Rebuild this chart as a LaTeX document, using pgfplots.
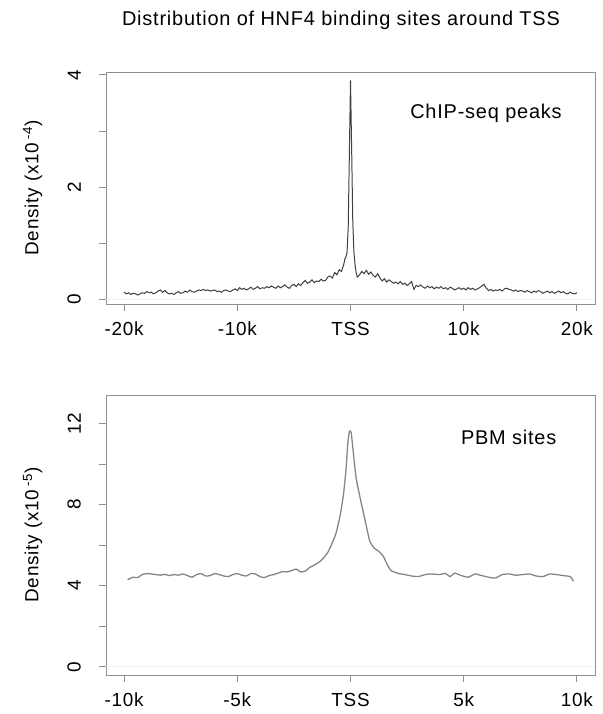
\documentclass[border=0pt]{standalone}
\usepackage{fontspec}
\setmainfont[LetterSpace=4]{Liberation Sans}
\usepackage{pgfplots}
\pgfplotsset{compat=1.18}
\definecolor{boxgray}{HTML}{8F8F8F}
\definecolor{chipline}{HTML}{404040}
\definecolor{pbmline}{HTML}{858585}

\pgfplotsset{
  rplot/.style={
    scale only axis, width=489bp,
    axis line style={boxgray, line width=1pt},
    tick style={boxgray, line width=0.9pt},
    tick align=outside, major tick length=7bp,
    xtick pos=lower, ytick pos=left,
    tick label style={font=\fontsize{19}{19}\selectfont},
    label style={font=\fontsize{19}{19}\selectfont},
    xticklabel style={anchor=north, inner sep=0pt},
    xticklabel shift=11bp,
    yticklabel style={rotate=90, anchor=south, inner sep=0pt},
    yticklabel shift=18bp,
    ylabel style={at={(axis description cs:-0.150,0.5)}, anchor=center},
  },
}

\pgfplotstableread{
x y
-20.0 0.13
-19.8 0.10
-19.6 0.12
-19.4 0.09
-19.2 0.11
-19.0 0.10
-18.8 0.08
-18.6 0.10
-18.4 0.12
-18.2 0.11
-18.0 0.14
-17.8 0.12
-17.6 0.13
-17.4 0.10
-17.2 0.12
-17.0 0.15
-16.8 0.17
-16.6 0.13
-16.4 0.16
-16.2 0.12
-16.0 0.10
-15.8 0.11
-15.6 0.09
-15.4 0.12
-15.2 0.14
-15.0 0.11
-14.8 0.12
-14.6 0.15
-14.4 0.13
-14.2 0.17
-14.0 0.14
-13.8 0.13
-13.6 0.15
-13.4 0.17
-13.2 0.16
-13.0 0.18
-12.8 0.16
-12.6 0.17
-12.4 0.15
-12.2 0.16
-12.0 0.17
-11.8 0.14
-11.6 0.15
-11.4 0.13
-11.2 0.16
-11.0 0.17
-10.8 0.15
-10.6 0.14
-10.4 0.17
-10.2 0.19
-10.0 0.16
-9.8 0.21
-9.6 0.18
-9.4 0.20
-9.2 0.17
-9.0 0.19
-8.8 0.22
-8.6 0.18
-8.4 0.20
-8.2 0.23
-8.0 0.19
-7.8 0.21
-7.6 0.20
-7.4 0.23
-7.2 0.21
-7.0 0.24
-6.8 0.22
-6.6 0.20
-6.4 0.24
-6.2 0.21
-6.0 0.23
-5.8 0.26
-5.6 0.22
-5.4 0.20
-5.2 0.25
-5.0 0.27
-4.8 0.23
-4.6 0.28
-4.4 0.25
-4.2 0.30
-4.0 0.34
-3.8 0.29
-3.6 0.31
-3.4 0.35
-3.2 0.30
-3.0 0.33
-2.8 0.32
-2.6 0.36
-2.4 0.33
-2.2 0.34
-2.0 0.40
-1.8 0.42
-1.6 0.38
-1.4 0.48
-1.2 0.44
-1.0 0.53
-0.8 0.50
-0.6 0.62
-0.5 0.72
-0.4 0.76
-0.3 0.85
-0.2 1.30
-0.1 2.60
0.0 3.90
0.1 2.70
0.2 1.40
0.3 0.85
0.4 0.62
0.5 0.48
0.6 0.40
0.8 0.44
1.0 0.50
1.2 0.46
1.4 0.52
1.6 0.45
1.8 0.49
2.0 0.43
2.2 0.40
2.4 0.46
2.6 0.38
2.8 0.33
3.0 0.37
3.2 0.31
3.4 0.35
3.6 0.32
3.8 0.29
4.0 0.31
4.2 0.28
4.4 0.32
4.6 0.27
4.8 0.29
5.0 0.25
5.2 0.28
5.4 0.32
5.6 0.18
5.8 0.25
6.0 0.23
6.2 0.26
6.4 0.22
6.6 0.20
6.8 0.24
7.0 0.21
7.2 0.23
7.4 0.19
7.6 0.22
7.8 0.20
8.0 0.23
8.2 0.19
8.4 0.21
8.6 0.18
8.8 0.22
9.0 0.20
9.2 0.17
9.4 0.19
9.6 0.21
9.8 0.18
10.0 0.20
10.2 0.17
10.4 0.21
10.6 0.18
10.8 0.20
11.0 0.17
11.2 0.19
11.4 0.21
11.6 0.24
11.8 0.27
12.0 0.20
12.2 0.16
12.4 0.18
12.6 0.15
12.8 0.17
13.0 0.16
13.2 0.18
13.4 0.15
13.6 0.19
13.8 0.20
14.0 0.18
14.2 0.17
14.4 0.15
14.6 0.17
14.8 0.14
15.0 0.16
15.2 0.15
15.4 0.13
15.6 0.16
15.8 0.14
16.0 0.12
16.2 0.15
16.4 0.13
16.6 0.16
16.8 0.14
17.0 0.11
17.2 0.13
17.4 0.15
17.6 0.12
17.8 0.14
18.0 0.11
18.2 0.13
18.4 0.15
18.6 0.12
18.8 0.14
19.0 0.11
19.2 0.10
19.4 0.13
19.6 0.11
19.8 0.10
20.0 0.12
}\chipdata

\pgfplotstableread{
x y
-9.85 4.30
-9.6 4.42
-9.4 4.40
-9.2 4.55
-9.0 4.60
-8.8 4.58
-8.6 4.55
-8.4 4.52
-8.2 4.56
-8.0 4.50
-7.8 4.55
-7.6 4.52
-7.4 4.58
-7.2 4.50
-7.0 4.42
-6.8 4.55
-6.6 4.60
-6.4 4.48
-6.2 4.50
-6.0 4.60
-5.8 4.55
-5.6 4.48
-5.4 4.45
-5.2 4.55
-5.0 4.60
-4.8 4.52
-4.6 4.48
-4.4 4.60
-4.2 4.58
-4.0 4.45
-3.8 4.40
-3.6 4.50
-3.4 4.55
-3.2 4.62
-3.0 4.70
-2.8 4.68
-2.6 4.75
-2.4 4.82
-2.2 4.68
-2.0 4.72
-1.8 4.90
-1.6 5.02
-1.4 5.15
-1.2 5.35
-1.0 5.65
-0.85 6.00
-0.65 6.55
-0.45 7.50
-0.3 8.60
-0.2 9.70
-0.12 11.00
-0.05 11.60
0.03 11.55
0.12 10.60
0.25 9.30
0.45 8.20
0.65 7.20
0.85 6.20
1.05 5.85
1.25 5.70
1.45 5.45
1.62 5.05
1.79 4.75
2.12 4.60
2.4 4.55
2.7 4.48
3.0 4.45
3.3 4.55
3.6 4.58
3.9 4.55
4.2 4.60
4.4 4.45
4.6 4.62
4.9 4.50
5.2 4.42
5.5 4.58
5.8 4.50
6.1 4.42
6.4 4.38
6.7 4.55
7.0 4.58
7.3 4.52
7.6 4.55
7.9 4.58
8.2 4.48
8.5 4.45
8.8 4.58
9.1 4.55
9.4 4.50
9.7 4.45
9.85 4.22
}\pbmdata

\begin{document}
\begin{tikzpicture}
\path[use as bounding box] (0,0) rectangle (603bp,-714bp);
\node[font=\fontsize{20}{24}\selectfont] at (341bp,-20bp) {Distribution of HNF4 binding sites around TSS};

\begin{axis}[rplot, at={(106bp,-72bp)}, anchor=north west, height=232bp,
  xmin=-21.6, xmax=21.6, ymin=-0.08, ymax=4.05,
  xtick={-20,-10,0,10,20}, xticklabels={-20k,-10k,TSS,10k,20k},
  ytick={0,1,2,3,4}, yticklabels={0,,2,,4},
  ylabel={Density (x10\,\textsuperscript{-4})}]
\addplot[gray!12, line width=0.8pt, forget plot] coordinates {(-21.6,0) (21.6,0)};
\addplot[chipline, line width=1pt] table[x=x, y=y] {\chipdata};
\node[anchor=east, font=\fontsize{20}{24}\selectfont] at (axis description cs:0.939,0.823) {ChIP-seq peaks};
\end{axis}

\begin{axis}[rplot, at={(106bp,-395bp)}, anchor=north west, height=280bp,
  xmin=-10.8, xmax=10.8, ymin=-0.4, ymax=13.4,
  xtick={-10,-5,0,5,10}, xticklabels={-10k,-5k,TSS,5k,10k},
  ytick={0,2,4,6,8,10,12}, yticklabels={0,,4,,8,,12},
  ylabel={Density (x10\,\textsuperscript{-5})}]
\addplot[gray!12, line width=0.8pt, forget plot] coordinates {(-10.8,0) (10.8,0)};
\addplot[pbmline, line width=1.3pt, smooth, tension=0.3] table[x=x, y=y] {\pbmdata};
\node[anchor=east, font=\fontsize{20}{24}\selectfont] at (axis description cs:0.928,0.85) {PBM sites};
\end{axis}
\end{tikzpicture}
\end{document}
